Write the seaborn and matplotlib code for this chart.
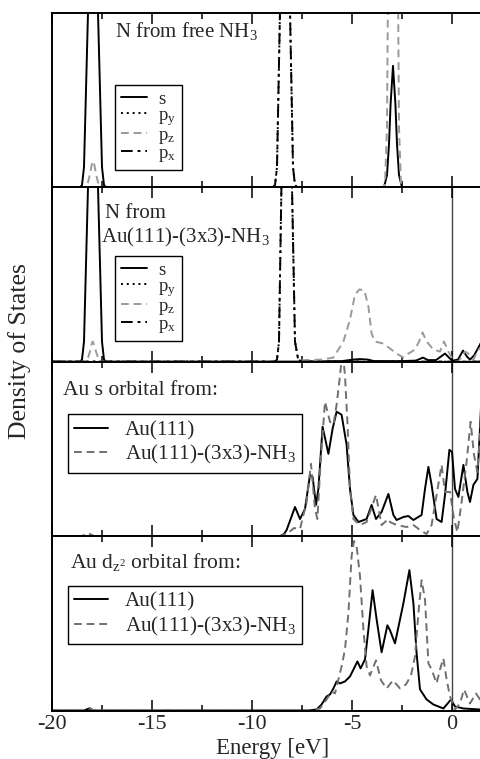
import numpy as np
import pandas as pd
import seaborn as sns
import matplotlib
matplotlib.use("Agg")
import matplotlib.pyplot as plt
from matplotlib.ticker import MultipleLocator

# ---------------- data (energy in eV, DOS in arbitrary units) ----------------
# Panel 1: N from free NH3
P1_S_E = [-20, -18.6, -18.5, -18.4, -18.2, -17.95, -17.7, -17.5, -17.4, -17.3,
          -3.4, -3.25, -3.15, -3.07, -2.95, -2.83, -2.75, -2.65, -2.5, 2]
P1_S_D = [0, 0, 2, 20, 174, 400, 174, 20, 2, 0,
          0, 12, 43, 83, 121, 83, 43, 12, 0, 0]
P1_PX_E = [-20, -8.95, -8.85, -8.75, -8.6, -8.35, -8.1, -7.95, -7.85, -7.75, 2]
P1_PX_D = [0, 0, 2, 20, 176, 400, 176, 20, 2, 0, 0]
P1_PZ_E = [-20, -18.35, -18.2, -18.1, -18.02, -17.95, -17.88, -17.8, -17.7, -17.6,
           -3.45, -3.35, -3.25, -3.2, -2.95, -2.7, -2.65, -2.55, -2.45, 2]
P1_PZ_D = [0, 0, 5, 13, 22, 26, 22, 13, 5, 0,
           0, 3, 60, 200, 1100, 200, 60, 3, 0, 0]

# Panel 2: N from Au(111)-(3x3)-NH3
P2_S_E = [-20, -18.6, -18.5, -18.4, -18.2, -17.95, -17.7, -17.5, -17.4, -17.3,
          -7.5, -5.5, -4.95, -4.6, -4.2, -3.9, -2.5, -1.8, -1.45, -1.2, -0.8,
          -0.35, -0.1, 0.05, 0.3, 0.55, 0.75, 0.9, 1.1, 1.4, 1.6, 2]
P2_S_D = [0, 0, 2, 20, 174, 400, 174, 20, 2, 0,
          0, 0.5, 2, 2.5, 2, 0.5, 0.5, 1, 4, 1.5, 1.5,
          8, 3, 1, 2, 11, 5, 2, 6, 17, 25, 30]
P2_PX_E = [-20, -8.85, -8.75, -8.65, -8.53, -8.27, -8.0, -7.85, -7.7, -7.55, 2]
P2_PX_D = [0, 0, 2, 20, 174, 400, 174, 20, 3, 0, 0]
P2_PZ_E = [-20, -18.35, -18.2, -18.1, -18.02, -17.97, -17.9, -17.8, -17.7, -17.6,
           -7.8, -7.43, -6.5, -5.93, -5.43, -5.1, -4.85, -4.63, -4.38, -4.18,
           -4.02, -3.85, -3.43, -3.1, -2.77, -2.43, -2.18, -1.85, -1.65, -1.47,
           -1.27, -0.93, -0.6, -0.4, -0.18, 0.07, 0.32, 0.65, 0.82, 1.07, 1.32, 1.6, 2]
P2_PZ_D = [0, 0, 4, 10, 17, 20, 17, 10, 4, 0,
           0, 1.5, 2, 4, 20, 42, 67, 72, 71, 55,
           28, 20, 18, 13, 8, 4, 8, 12, 20, 29,
           20, 12, 10, 20, 10, 1, 0, 10, 8, 2, 12, 15, 15]

# Panel 3: Au s orbital
P3_A_E = [-20, -8.6, -8.4, -8.27, -8.05, -7.85, -7.6, -7.35, -7.1, -6.97, -6.8,
          -6.68, -6.47, -6.18, -5.97, -5.77, -5.52, -5.27, -5.1, -4.93, -4.68,
          -4.27, -4.02, -3.8, -3.52, -3.18, -2.93, -2.77, -2.43, -2.18, -1.93,
          -1.52, -1.35, -1.18, -1.02, -0.77, -0.52, -0.35, -0.13, 0.0, 0.15,
          0.32, 0.57, 0.77, 0.9, 1.07, 1.27, 1.4, 1.5, 2]
P3_A_D = [0, 0, 2, 6, 18, 29, 17, 27, 61, 59, 31,
          47, 109, 82, 107, 124, 121, 91, 47, 21, 14,
          17, 31, 17, 24, 42, 21, 16, 19, 20, 16,
          21, 47, 69, 51, 17, 14, 41, 86, 84, 47,
          39, 71, 44, 34, 51, 57, 107, 150, 170]
P3_B_E = [-20, -18.5, -18.2, -17.9, -8.6, -8.2, -7.9, -7.6, -7.27, -7.05, -6.85,
          -6.73, -6.57, -6.35, -6.1, -5.93, -5.77, -5.6, -5.47, -5.35, -5.22,
          -5.1, -4.93, -4.6, -4.27, -3.8, -3.52, -3.18, -3.1, -2.77, -2.27,
          -1.93, -1.6, -1.27, -1.02, -0.77, -0.52, -0.35, -0.1, 0.1, 0.27,
          0.48, 0.73, 0.93, 1.1, 1.27, 1.48, 1.6, 2]
P3_B_D = [0, 0, 3, 0, 0, 3, 8, 7, 34, 72, 27,
          17, 74, 134, 114, 111, 131, 160, 185, 160, 110,
          47, 17, 11, 14, 41, 11, 17, 14, 11, 9,
          11, 6, 2, 11, 41, 71, 44, 44, 17, 4,
          34, 74, 114, 81, 64, 124, 140, 140]

# Panel 4: Au dz2 orbital
P4_A_E = [-20, -18.4, -18.15, -17.9, -7.2, -6.77, -6.52, -6.27, -6.1, -5.93,
          -5.77, -5.6, -5.35, -5.1, -4.85, -4.73, -4.57, -4.35, -4.18, -3.97,
          -3.77, -3.52, -3.23, -3.1, -2.85, -2.43, -2.13, -1.93, -1.77, -1.6,
          -1.27, -0.93, -0.43, -0.05, 0.15, 0.57, 1.4, 2]
P4_A_D = [0, 0, 2, 0, 0, 1, 6, 14, 16, 22,
          29, 27, 29, 34, 44, 49, 42, 51, 81, 120,
          91, 58, 85, 80, 67, 107, 140, 107, 57, 21,
          11, 6, 2, 11, 4, 2, 1, 1]
P4_B_E = [-20, -18.4, -18.15, -17.9, -7.0, -6.6, -6.27, -6.02, -5.85, -5.68,
          -5.52, -5.35, -5.18, -5.02, -4.9, -4.77, -4.6, -4.43, -4.27, -4.1,
          -3.8, -3.55, -3.27, -2.95, -2.6, -2.3, -2.05, -1.85, -1.68, -1.52,
          -1.35, -1.18, -1.02, -0.77, -0.6, -0.43, -0.27, -0.1, 0.15, 0.4,
          0.6, 0.9, 1.2, 1.4, 1.6, 2]
P4_B_D = [0, 0, 3, 0, 0, 2, 11, 19, 17, 31,
          44, 61, 97, 154, 169, 164, 134, 81, 44, 35,
          50, 30, 22, 30, 22, 26, 35, 54, 97, 130,
          111, 47, 41, 27, 41, 52, 31, 14, 1, 7,
          21, 7, 17, 11, 8, 8]

XTICKS = [-20, -15, -10, -5, 0]
XLIMS = (-20, 2)
YMAX = 174

# ---------------- style ----------------
sns.set_theme(style="ticks")
plt.rcParams["font.family"] = ["Liberation Serif", "DejaVu Serif"]
plt.rcParams["mathtext.fontset"] = "custom"
plt.rcParams["mathtext.rm"] = "Liberation Serif"
plt.rcParams["mathtext.it"] = "Liberation Serif:italic"
plt.rcParams["axes.unicode_minus"] = False

W, H = 480, 759
fig = plt.figure(figsize=(W / 100, H / 100), dpi=100)

left_px, top_px, bottom_px = 52, 12.7, 710.5
ax_w_px = 20 * (XLIMS[1] - XLIMS[0])
ph = (bottom_px - top_px) / 4
axes = []
for i in range(4):
    yb = top_px + (i + 1) * ph
    ax = fig.add_axes([left_px / W, 1 - yb / H, ax_w_px / W, ph / H])
    axes.append(ax)

BLACK = "black"
GRAY1 = "#9a9a9a"
GRAY2 = "#707070"
LW = 1.4
DASH = (0, (4, 2.5))
DASHDOT = (0, (6, 2.5, 1.5, 2.5))
DOT = (0, (1, 2))


def line(ax, e, d, color, ls, label):
    sns.lineplot(x=e, y=d, ax=ax, color=color, linestyle=ls, lw=LW,
                 sort=False, estimator=None, label=label)


small_leg = dict(loc="upper left", borderaxespad=0, fontsize=13.5,
                 handlelength=1.4, handletextpad=0.6, labelspacing=-0.05,
                 borderpad=0.3, frameon=True, fancybox=False,
                 edgecolor="black", framealpha=1)
big_leg = dict(loc="upper left", borderaxespad=0, fontsize=15.2,
               handlelength=1.6, handletextpad=0.8, labelspacing=0.15,
               borderpad=0.3, frameon=True, fancybox=False,
               edgecolor="black", framealpha=1)

# panel 1
ax = axes[0]
line(ax, P1_S_E, P1_S_D, BLACK, "-", "s")
line(ax, P1_PX_E, P1_PX_D, BLACK, DOT, r"p$_\mathrm{y}$")
line(ax, P1_PZ_E, P1_PZ_D, GRAY1, DASH, r"p$_\mathrm{z}$")
line(ax, P1_PX_E, P1_PX_D, BLACK, DASHDOT, r"p$_\mathrm{x}$")
ax.text(0.143, 0.859, r"N from free NH$_3$", transform=ax.transAxes,
        fontsize=15, va="baseline", ha="left")
ax.legend(bbox_to_anchor=(0.143, 0.586), **small_leg)

# panel 2
ax = axes[1]
line(ax, P2_S_E, P2_S_D, BLACK, "-", "s")
line(ax, P2_PX_E, P2_PX_D, BLACK, DOT, r"p$_\mathrm{y}$")
line(ax, P2_PZ_E, P2_PZ_D, GRAY1, DASH, r"p$_\mathrm{z}$")
line(ax, P2_PX_E, P2_PX_D, BLACK, DASHDOT, r"p$_\mathrm{x}$")
ax.text(0.120, 0.822, "N from", transform=ax.transAxes,
        fontsize=15, va="baseline", ha="left")
ax.text(0.111, 0.684, r"Au(111)-(3x3)-NH$_3$", transform=ax.transAxes,
        fontsize=15, va="baseline", ha="left")
ax.legend(bbox_to_anchor=(0.143, 0.606), **small_leg)

# panel 3
ax = axes[2]
line(ax, P3_A_E, P3_A_D, BLACK, "-", "Au(111)")
line(ax, P3_B_E, P3_B_D, GRAY2, DASH, r"Au(111)-(3x3)-NH$_3$")
ax.text(0.025, 0.809, "Au s orbital from:", transform=ax.transAxes,
        fontsize=15.5, va="baseline", ha="left")
ax.legend(bbox_to_anchor=(0.036, 0.70), **big_leg)

# panel 4
ax = axes[3]
line(ax, P4_A_E, P4_A_D, BLACK, "-", "Au(111)")
line(ax, P4_B_E, P4_B_D, GRAY2, DASH, r"Au(111)-(3x3)-NH$_3$")
ax.text(0.041, 0.816, r"Au d$_{\mathrm{z}^{2}}$ orbital from:", transform=ax.transAxes,
        fontsize=15.5, va="baseline", ha="left")
ax.legend(bbox_to_anchor=(0.036, 0.715), **big_leg)

for i, ax in enumerate(axes):
    ax.set_xlim(*XLIMS)
    ax.set_ylim(0, YMAX)
    ax.set_yticks([])
    ax.set_ylabel("")
    ax.set_xlabel("")
    ax.set_xticks(XTICKS)
    ax.xaxis.set_minor_locator(MultipleLocator(2.5))
    ax.tick_params(axis="x", which="major", direction="in", top=True, bottom=True,
                   length=8, width=1.1, color="black", labelsize=16, pad=3)
    ax.tick_params(axis="x", which="minor", direction="in", top=True, bottom=True,
                   length=4.5, width=1.1, color="black")
    for s in ax.spines.values():
        s.set_linewidth(1.4)
        s.set_color("black")
    if i > 0:
        ax.axvline(0, color="#444444", lw=1.0, zorder=0.5)
    if i < 3:
        ax.tick_params(axis="x", labelbottom=False)
    ax.set_facecolor("white")

fig.text(273 / W, 1 - 754 / H, "Energy [eV]", ha="center", va="baseline",
         fontsize=16.5)
fig.text(20 / W, 1 - 351 / H, "Density of States", rotation=90,
         ha="center", va="center", fontsize=18.5)

fig.savefig("out.png", dpi=100, facecolor="white")
